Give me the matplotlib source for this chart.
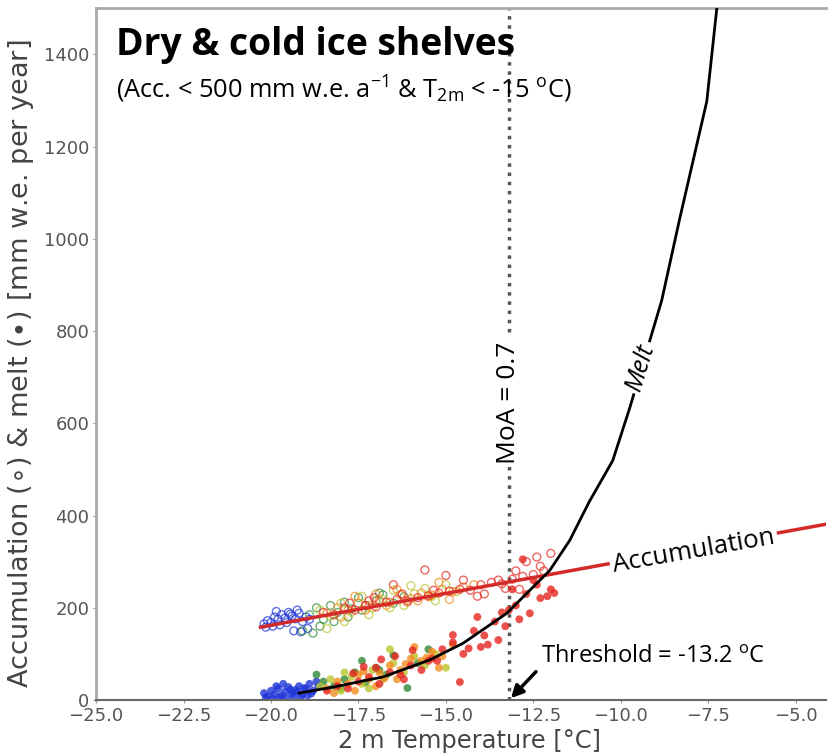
import numpy as np
import matplotlib.pyplot as plt

# 2 m temperature vs accumulation / melt for dry & cold ice shelves
threshold = -13.2
moa = 0.7

# colour of each shelf group
group_colors = ['#1f35d8', '#2f8a35', '#b9c62e', '#f28c1e', '#e6261f']

# accumulation (open circles), one list per group
acc_x = [
    [-20.2, -20.1, -20.0, -19.9, -19.8, -19.7, -19.6, -19.5, -19.4, -19.3, -19.2, -19.1, -19.0, -18.9,
     -20.15, -19.95, -19.75, -19.55, -19.35, -19.15, -18.95, -19.85, -19.45, -19.25],
    [-18.9, -18.7, -18.5, -18.3, -18.1, -17.9, -17.7, -17.5, -17.3, -17.0, -16.8, -16.5, -16.2,
     -18.6, -18.2, -17.8, -17.4, -16.9, -19.1, -18.8],
    [-18.6, -18.3, -18.0, -17.7, -17.4, -17.1, -16.8, -16.5, -16.2, -15.9, -15.6, -15.3, -15.0, -14.7,
     -17.9, -17.2, -16.6, -16.0, -15.4, -18.4],
    [-18.4, -18.1, -17.8, -17.5, -17.2, -16.9, -16.6, -16.3, -16.0, -15.7, -15.4, -15.1, -14.8, -14.5,
     -14.2, -17.6, -17.0, -16.4, -15.8, -15.2, -14.9, -18.0, -17.3, -16.7, -16.1, -15.5],
    [-18.5, -18.2, -17.9, -17.6, -17.3, -17.0, -16.7, -16.4, -16.1, -15.8, -15.5, -15.2, -14.9, -14.6,
     -14.3, -14.0, -13.7, -13.4, -13.1, -12.8, -12.5, -12.2, -13.9, -13.5, -13.0, -12.7, -12.4, -12.0,
     -14.5, -15.0, -16.5, -17.2, -12.9, -13.3, -12.3, -15.6, -14.1, -17.75, -17.05, -16.25, -15.35],
]
acc_y = [
    [165, 172, 168, 180, 175, 185, 178, 190, 182, 176, 188, 170, 180, 175,
     158, 160, 163, 168, 150, 148, 155, 192, 186, 195],
    [185, 200, 175, 205, 190, 212, 198, 222, 205, 215, 228, 210, 224,
     160, 170, 180, 195, 232, 150, 145],
    [195, 182, 210, 190, 225, 200, 218, 238, 205, 230, 242, 215, 250, 235,
     170, 185, 200, 248, 225, 155],
    [188, 200, 195, 210, 205, 215, 212, 228, 220, 232, 228, 240, 235, 245,
     250, 225, 230, 240, 215, 255, 218, 180, 195, 205, 212, 224],
    [190, 185, 200, 195, 205, 202, 212, 218, 215, 222, 226, 232, 236, 240,
     238, 250, 255, 252, 262, 268, 272, 280, 230, 260, 280, 300, 310, 318,
     260, 270, 250, 215, 240, 242, 290, 282, 225, 210, 222, 230, 238],
]

# melt (filled circles), one list per group
melt_x = [
    [-20.2, -20.1, -20.0, -19.9, -19.8, -19.7, -19.6, -19.5, -19.4, -19.3, -19.2, -19.1, -19.0, -18.9,
     -18.8, -18.7, -20.15, -19.95, -19.75, -19.55, -19.35, -19.15, -18.95, -19.85, -19.65, -19.45,
     -19.25, -19.05, -18.85, -18.65],
    [-18.7, -18.5, -18.2, -17.9, -17.6, -17.3, -17.0, -16.7, -16.5, -16.1, -15.8, -15.5, -18.0, -17.4, -16.9],
    [-18.6, -18.3, -18.0, -17.7, -17.4, -17.1, -16.8, -16.5, -16.2, -15.9, -15.6, -15.3, -17.9, -17.2,
     -16.6, -15.0],
    [-18.4, -18.1, -17.8, -17.5, -17.2, -16.9, -16.6, -16.3, -16.0, -15.7, -15.4, -15.1, -14.8, -17.6,
     -17.0, -16.4, -15.9, -15.2, -18.2, -17.35, -16.75, -16.15, -15.55],
    [-18.4, -18.1, -17.8, -17.5, -17.2, -16.9, -16.6, -16.3, -16.0, -15.7, -15.4, -15.1, -14.8, -14.5,
     -14.2, -13.9, -13.6, -13.3, -13.0, -12.7, -12.4, -12.1, -11.9, -14.1, -14.6, -14.8, -13.5, -13.2,
     -12.8, -12.6, -12.3, -12.0, -13.8, -13.1, -15.5, -16.2, -17.0, -14.0, -13.4, -12.9, -12.5,
     -17.65, -17.35, -16.85, -16.45, -15.95, -15.25, -14.35],
]
melt_y = [
    [15, 8, 20, 12, 25, 10, 18, 28, 14, 22, 30, 12, 25, 35,
     20, 40, 5, 3, 6, 4, 8, 5, 10, 30, 35, 22, 18, 26, 14, 30],
    [55, 40, 30, 45, 60, 38, 70, 55, 97, 26, 80, 110, 25, 85, 65],
    [30, 45, 20, 50, 35, 65, 45, 80, 60, 95, 75, 100, 60, 25, 110, 70],
    [25, 40, 35, 55, 45, 60, 75, 65, 90, 85, 105, 95, 120, 20, 30, 45, 115, 70, 15, 62, 48, 78, 92],
    [20, 30, 25, 40, 50, 35, 60, 55, 75, 65, 90, 110, 125, 100, 150, 140, 170, 160, 205, 230, 250,
     225, 232, 180, 39, 141, 130, 195, 305, 188, 221, 240, 120, 240, 85, 45, 70, 115, 190, 175, 260,
     58, 72, 88, 95, 108, 85, 112],
]

# fitted curves
acc_fit_t = [-20.3, -4.0]
acc_fit_v = [158, 383]
melt_fit_t = [-19.2, -18.23, -16.8, -15.46, -14.51, -13.26, -12.03, -11.46, -10.9, -10.23,
              -9.74, -8.83, -8.31, -7.54, -7.26, -7.1]
melt_fit_v = [15, 28, 50, 87, 123, 188, 281, 346, 430, 519,
              634, 866, 1045, 1298, 1495, 1600]

plt.rcParams['font.family'] = ['DejaVu Sans']
fig = plt.figure(figsize=(8.29, 7.54), dpi=100)
ax = fig.add_axes([0.116, 0.0716, 0.88, 0.9175])

for i, c in enumerate(group_colors):
    ax.scatter(acc_x[i], acc_y[i], s=32, facecolors='none', edgecolors=c, linewidths=1.0, alpha=0.7, zorder=2)
for i, c in enumerate(group_colors):
    ax.scatter(melt_x[i], melt_y[i], s=32, color=c, alpha=0.8, edgecolors='none', zorder=2)

ax.plot(acc_fit_t, acc_fit_v, color='#d42a2a', lw=2.5, zorder=3)
ax.plot(melt_fit_t, melt_fit_v, color='black', lw=2.0, zorder=3)
ax.axvline(threshold, color='#555555', ls=':', lw=2.5, zorder=1)

ax.set_xlim(-25, -4.14)
ax.set_ylim(0, 1500)
ax.set_xticks(np.arange(-25, -4.9, 2.5))
ax.set_yticks(np.arange(0, 1401, 200))
ax.tick_params(labelsize=13, labelcolor='#555555', color='#999999', length=2, pad=3)
ax.spines['right'].set_visible(False)
for name in ['left', 'top']:
    ax.spines[name].set_color('#aaaaaa')
    ax.spines[name].set_linewidth(2)
ax.spines['bottom'].set_color('#666666')
ax.spines['bottom'].set_linewidth(1.5)

ax.set_xlabel('2 m Temperature [°C]', fontsize=17.4, color='#444444')
ax.xaxis.set_label_coords(0.512, -0.042)
ax.set_ylabel(r'Accumulation ($\circ$) & melt ($\bullet$) [mm w.e. per year]', fontsize=19.5,
              color='#444444')
ax.yaxis.set_label_coords(-0.082, 0.486)

ann = ['Open Sans', 'DejaVu Sans']
ax.text(0.027, 0.975, 'Dry & cold ice shelves', transform=ax.transAxes, family=ann,
        fontsize=26.8, fontweight='bold', va='top', ha='left')
ax.text(0.027, 0.905, r'(Acc. < 500 mm w.e. a$^{\mathregular{-1}}$ & T$_{\mathregular{2m}}$ < -15 $^{\mathregular{o}}$C)',
        transform=ax.transAxes, family=ann, fontsize=18.3, va='top', ha='left')

box = dict(facecolor='white', edgecolor='none', pad=2)
ax.text(threshold, 645, f'MoA = {moa}', rotation=90, family=ann, fontsize=19,
        ha='center', va='center', bbox=box, zorder=4)
ax.text(-9.43, 721, 'Melt', rotation=73, style='italic', family=ann, fontsize=18,
        ha='center', va='center', bbox=box, zorder=4)
ax.text(-7.91, 322, 'Accumulation', rotation=10, family=ann, fontsize=18.5,
        ha='center', va='center', bbox=box, zorder=4)
ax.annotate(f'Threshold = {threshold} $^{{\\mathregular{{o}}}}$C', xy=(threshold + 0.06, 4), xytext=(-12.29, 93),
            family=ann, fontsize=17, va='center', ha='left',
            arrowprops=dict(arrowstyle='-|>', color='black', lw=2.5, mutation_scale=18,
                            relpos=(0, 0.1), shrinkA=2, shrinkB=0), zorder=5)

fig.savefig('out.png', dpi=100)
